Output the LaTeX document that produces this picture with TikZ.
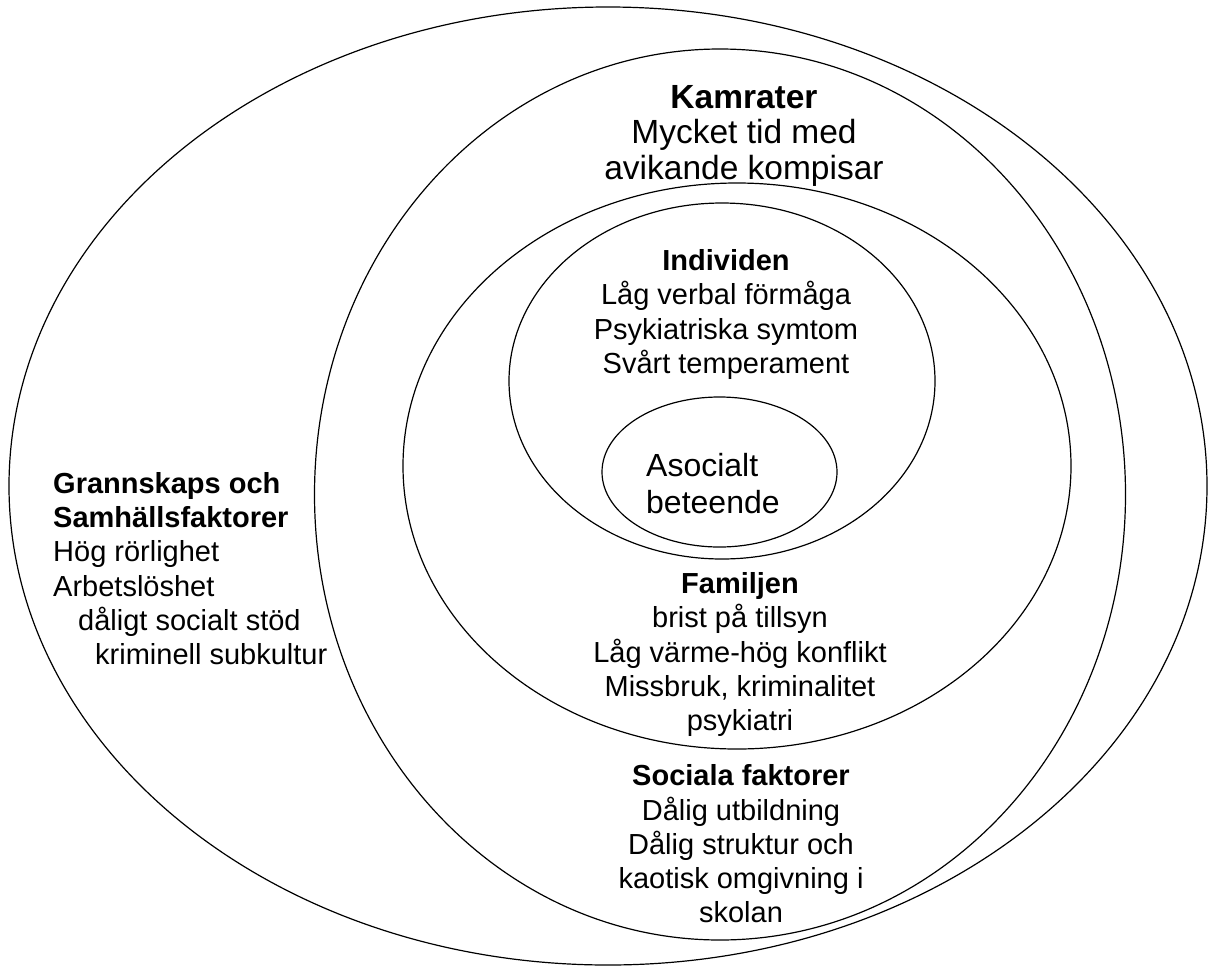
\documentclass[tikz,border=0pt]{standalone}
\usepackage{fontspec}
\setmainfont{Liberation Sans}
\begin{document}
\begin{tikzpicture}[x=1pt,y=-1pt,
  ring/.style={draw=black,line width=1.2pt},
  txt/.style={inner sep=0pt,align=center,font=\fontsize{29}{34.3}\selectfont},
  bigtxt/.style={inner sep=0pt,align=center,font=\fontsize{33.5}{35.5}\selectfont},
  coretxt/.style={inner sep=0pt,align=left,font=\fontsize{32}{37}\selectfont}]
\useasboundingbox[fill=white] (0,0) rectangle (1213,967);

% nested spheres of influence
\draw[ring] (608,486) ellipse [x radius=599pt, y radius=479pt];
\draw[ring] (720,494.5) ellipse [x radius=405.5pt, y radius=445.5pt];
\draw[ring] (737,466) ellipse [x radius=334pt, y radius=283pt];
\draw[ring] (722,381) ellipse [x radius=213pt, y radius=178pt];
\draw[ring] (719.5,472) ellipse [x radius=117.5pt, y radius=75pt];

% labels
\node[bigtxt] (kamrater) at (744,135.5)
  {\textbf{Kamrater}\\Mycket tid med\\avikande kompisar};
\node[txt] (individen) at (726,314.5)
  {\textbf{Individen}\\Låg verbal förmåga\\Psykiatriska symtom\\Svårt temperament};
\node[coretxt,anchor=west] (asocialt) at (646,484)
  {Asocialt\\beteende};
\node[txt] (familjen) at (740,654.5)
  {\textbf{Familjen}\\brist på tillsyn\\Låg värme-hög konflikt\\Missbruk, kriminalitet\\psykiatri};
\node[txt] (sociala) at (741,844)
  {\textbf{Sociala faktorer}\\Dålig utbildning\\Dålig struktur och\\kaotisk omgivning i\\skolan};
\node[txt,align=left,anchor=west] (grannskap) at (53,568.5)
  {\textbf{Grannskaps och}\\\textbf{Samhällsfaktorer}\\Hög rörlighet\\Arbetslöshet\\\hspace*{25pt}dåligt socialt stöd\\\hspace*{42pt}kriminell subkultur};
\end{tikzpicture}
\end{document}
